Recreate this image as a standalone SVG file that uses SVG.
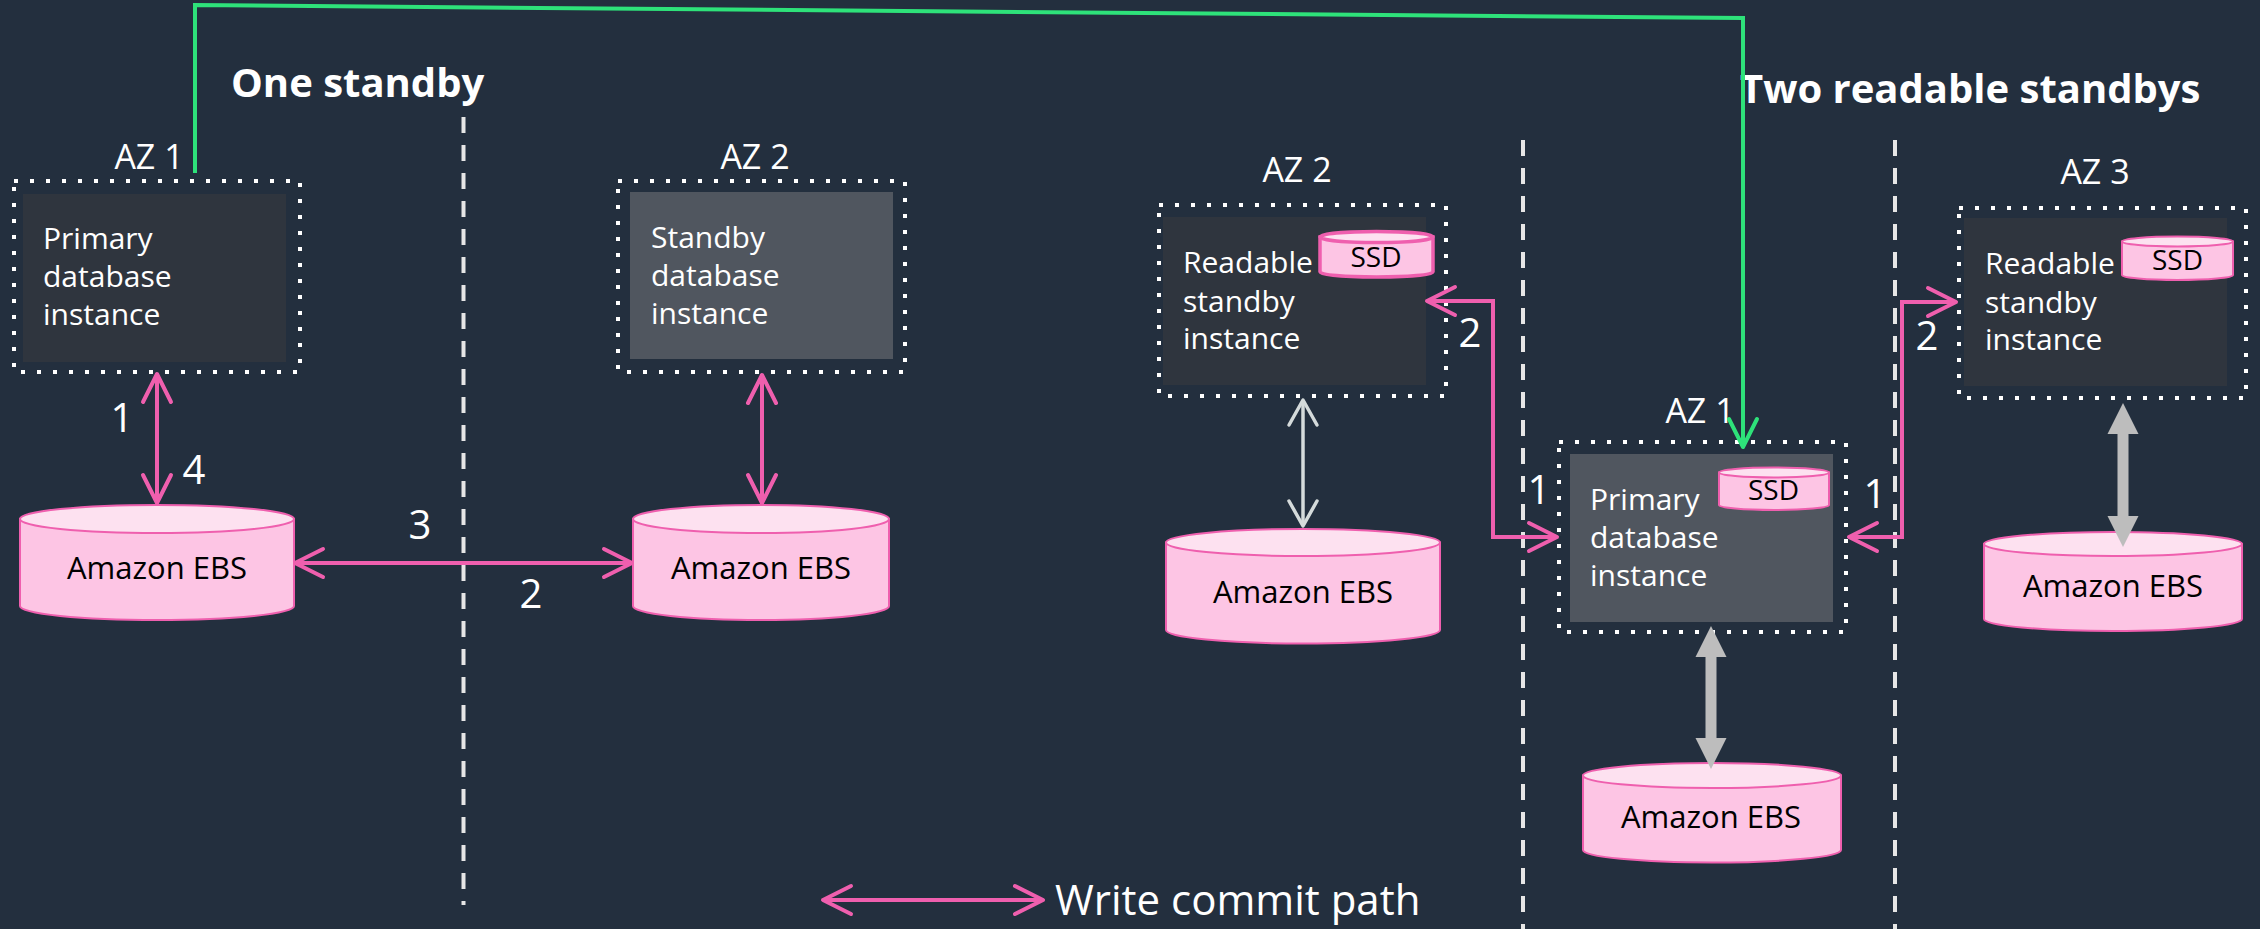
<svg xmlns="http://www.w3.org/2000/svg" width="2260" height="929" viewBox="0 0 2260 929">
  <style>
    .title { font-family: "Open Sans", "Liberation Sans", sans-serif; font-weight: 700; font-size: 40px; fill: #ffffff; }
    .az { font-family: "Open Sans", "Liberation Sans", sans-serif; font-size: 34px; fill: #ffffff; text-anchor: middle; }
    .body { font-family: "Open Sans", "Liberation Sans", sans-serif; font-size: 30px; fill: #ffffff; }
    .num { font-family: "Open Sans", "Liberation Sans", sans-serif; font-size: 40px; fill: #ffffff; text-anchor: middle; }
    .ebs { font-family: "Open Sans", "Liberation Sans", sans-serif; font-size: 31px; fill: #000000; text-anchor: middle; }
    .ssd { font-family: "Open Sans", "Liberation Sans", sans-serif; font-size: 28px; fill: #000000; text-anchor: middle; }
    .legend { font-family: "Open Sans", "Liberation Sans", sans-serif; font-size: 42px; fill: #ffffff; }
    .dotted { fill: none; stroke: #ffffff; stroke-width: 4; stroke-dasharray: 4 12; }
    .divider { fill: none; stroke: #e6e6e6; stroke-width: 4; stroke-dasharray: 16 12; }
    .dark { fill: #2f353e; }
    .light { fill: #50565f; }
    .cylbody { fill: #fdc5e4; stroke: #ef5fae; stroke-width: 2; }
    .cyltop { fill: #fde1f0; stroke: #ef5fae; stroke-width: 2; }
    .pink { fill: none; stroke: #ef5fae; stroke-width: 4; marker-start: url(#pk); marker-end: url(#pk); }
    .lgray { fill: none; stroke: #d5dbdb; stroke-width: 3.5; marker-start: url(#gy); marker-end: url(#gy); }
    .green { fill: none; stroke: #2ee27a; stroke-width: 4; marker-end: url(#gr); }
    .thick { fill: #bdbdbd; }
  </style>
  <defs>
    <marker id="pk" viewBox="-34 -20 40 40" refX="0" refY="0" markerWidth="40" markerHeight="40" markerUnits="userSpaceOnUse" orient="auto-start-reverse">
      <path d="M-28,-14 L0,0 L-28,14" fill="none" stroke="#ef5fae" stroke-width="4" stroke-linejoin="round" stroke-linecap="round"/>
    </marker>
    <marker id="gy" viewBox="-34 -20 40 40" refX="0" refY="0" markerWidth="40" markerHeight="40" markerUnits="userSpaceOnUse" orient="auto-start-reverse">
      <path d="M-25,-14 L0,0 L-25,14" fill="none" stroke="#d5dbdb" stroke-width="3.5" stroke-linejoin="round" stroke-linecap="round"/>
    </marker>
    <marker id="gr" viewBox="-34 -20 40 40" refX="0" refY="0" markerWidth="40" markerHeight="40" markerUnits="userSpaceOnUse" orient="auto">
      <path d="M-28,-14 L0,0 L-28,14" fill="none" stroke="#2ee27a" stroke-width="4" stroke-linejoin="round" stroke-linecap="round"/>
    </marker>
  </defs>

  <rect x="0" y="0" width="2260" height="929" fill="#232f3e"/>

  <g id="titles">
    <text class="title" x="231" y="97">One standby</text>
    <text class="title" x="1740" y="103">Two readable standbys</text>
  </g>

  <g id="dividers">
    <line class="divider" x1="463.5" y1="117" x2="463.5" y2="905"/>
    <line class="divider" x1="1523" y1="140" x2="1523" y2="929"/>
    <line class="divider" x1="1895" y1="140" x2="1895" y2="929"/>
  </g>

  <g id="az1-primary-one">
    <text class="az" x="149" y="169">AZ 1</text>
    <rect class="dotted" x="14" y="181" width="286" height="191"/>
    <rect class="dark" x="23" y="194" width="263" height="168"/>
    <text class="body" x="43" y="249">Primary</text>
    <text class="body" x="43" y="287">database</text>
    <text class="body" x="43" y="325">instance</text>
  </g>

  <g id="az2-standby-one">
    <text class="az" x="755" y="169">AZ 2</text>
    <rect class="dotted" x="618" y="181" width="287" height="191"/>
    <rect class="light" x="630" y="192" width="263" height="167"/>
    <text class="body" x="651" y="248">Standby</text>
    <text class="body" x="651" y="286">database</text>
    <text class="body" x="651" y="324">instance</text>
  </g>

  <g id="ebs-az1-one">
    <path class="cylbody" d="M20,519 V606 A137,14 0 0 0 294,606 V519 Z"/>
    <ellipse class="cyltop" cx="157" cy="519" rx="137" ry="14"/>
    <text class="ebs" x="157" y="579">Amazon EBS</text>
  </g>

  <g id="ebs-az2-one">
    <path class="cylbody" d="M633,519 V606 A128,14 0 0 0 889,606 V519 Z"/>
    <ellipse class="cyltop" cx="761" cy="519" rx="128" ry="14"/>
    <text class="ebs" x="761" y="579">Amazon EBS</text>
  </g>

  <g id="az2-readable">
    <text class="az" x="1297" y="182">AZ 2</text>
    <rect class="dotted" x="1159" y="205" width="287" height="191"/>
    <rect class="dark" x="1163" y="217" width="263" height="168"/>
    <text class="body" x="1183" y="273">Readable</text>
    <text class="body" x="1183" y="312">standby</text>
    <text class="body" x="1183" y="349">instance</text>
    <g id="ssd-az2">
      <path d="M1320,237 V272 A56.5,5 0 0 0 1433,272 V237 Z" fill="#fdc5e4" stroke="#ef5fae" stroke-width="3.5"/>
      <ellipse cx="1376.5" cy="237" rx="56.5" ry="5.5" fill="#fde1f0" stroke="#ef5fae" stroke-width="3.5"/>
      <text class="ssd" x="1376" y="267">SSD</text>
    </g>
  </g>

  <g id="ebs-az2-readable">
    <path class="cylbody" d="M1166,542.5 V630 A137,13.5 0 0 0 1440,630 V542.5 Z"/>
    <ellipse class="cyltop" cx="1303" cy="542.5" rx="137" ry="13.5"/>
    <text class="ebs" x="1303" y="603">Amazon EBS</text>
  </g>

  <g id="az1-primary-two">
    <text class="az" x="1700" y="423">AZ 1</text>
    <rect class="dotted" x="1559" y="442" width="287" height="190"/>
    <rect class="light" x="1570" y="454" width="263" height="168"/>
    <text class="body" x="1590" y="510">Primary</text>
    <text class="body" x="1590" y="548">database</text>
    <text class="body" x="1590" y="586">instance</text>
    <g id="ssd-az1">
      <path class="cylbody" d="M1719,472.5 V505 A55,5 0 0 0 1829,505 V472.5 Z"/>
      <ellipse class="cyltop" cx="1774" cy="472.5" rx="55" ry="5"/>
      <text class="ssd" x="1773.5" y="500">SSD</text>
    </g>
  </g>

  <g id="ebs-az1-two">
    <path class="cylbody" d="M1583,775.5 V850 A129,12.5 0 0 0 1841,850 V775.5 Z"/>
    <ellipse class="cyltop" cx="1712" cy="775.5" rx="129" ry="12.5"/>
    <text class="ebs" x="1711" y="828">Amazon EBS</text>
  </g>

  <g id="az3-readable">
    <text class="az" x="2095" y="184">AZ 3</text>
    <rect class="dotted" x="1959" y="208" width="287" height="190"/>
    <rect class="dark" x="1964" y="218" width="263" height="168"/>
    <text class="body" x="1985" y="274">Readable</text>
    <text class="body" x="1985" y="313">standby</text>
    <text class="body" x="1985" y="350">instance</text>
    <g id="ssd-az3">
      <path class="cylbody" d="M2122,241.5 V275 A55.5,5 0 0 0 2233,275 V241.5 Z"/>
      <ellipse class="cyltop" cx="2177.5" cy="241.5" rx="55.5" ry="5"/>
      <text class="ssd" x="2177.5" y="270">SSD</text>
    </g>
  </g>

  <g id="ebs-az3">
    <path class="cylbody" d="M1984,544 V619 A129,12 0 0 0 2242,619 V544 Z"/>
    <ellipse class="cyltop" cx="2113" cy="544" rx="129" ry="12"/>
    <text class="ebs" x="2113" y="597">Amazon EBS</text>
  </g>

  <g id="connectors">
    <path class="green" d="M195,173 V5 L1743,18 V447"/>
    <path class="pink" d="M157,374 V503"/>
    <path class="pink" d="M762,375 V503"/>
    <path class="pink" d="M295,563 H632"/>
    <path class="pink" d="M1427,301 H1493 V537 H1557"/>
    <path class="pink" d="M1849,537 H1902 V302 H1956"/>
    <path class="lgray" d="M1303,400 V526"/>
    <polygon class="thick" points="1711,626 1726.5,657 1716.5,657 1716.5,738 1726.5,738 1711,769 1695.5,738 1705.5,738 1705.5,657 1695.5,657"/>
    <polygon class="thick" points="2123,403 2138.5,434 2128.5,434 2128.5,516 2138.5,516 2123,547 2107.5,516 2117.5,516 2117.5,434 2107.5,434"/>
  </g>

  <g id="labels">
    <text class="num" x="122" y="432">1</text>
    <text class="num" x="194" y="484">4</text>
    <text class="num" x="420" y="539">3</text>
    <text class="num" x="531" y="608">2</text>
    <text class="num" x="1470" y="347">2</text>
    <text class="num" x="1539" y="504">1</text>
    <text class="num" x="1875" y="508">1</text>
    <text class="num" x="1927" y="350">2</text>
  </g>

  <g id="legend">
    <path class="pink" d="M823,900 H1043"/>
    <text class="legend" x="1055" y="915">Write commit path</text>
  </g>
</svg>
